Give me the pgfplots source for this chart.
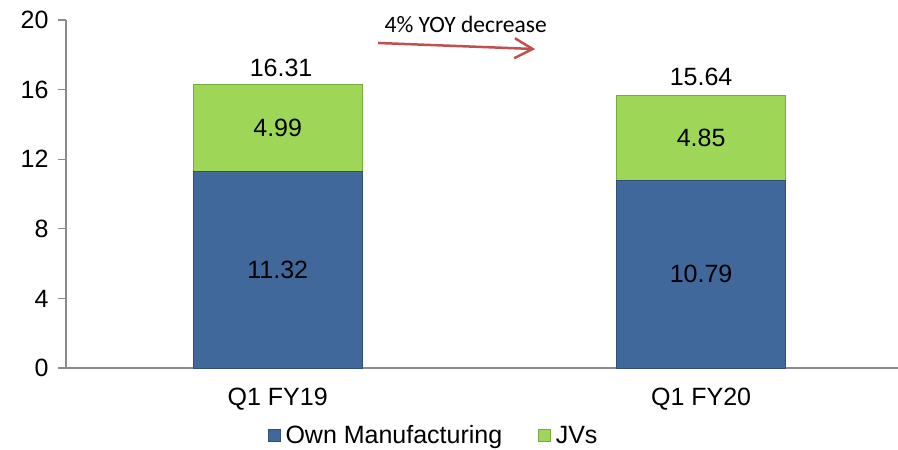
\documentclass[border=0pt]{standalone}
\usepackage{fontspec}
\setmainfont{Liberation Sans}
\newfontfamily\calibri{Carlito}
\usepackage{pgfplots}
\pgfplotsset{compat=1.18}
\usetikzlibrary{arrows.meta}

\definecolor{ownblue}{RGB}{64,104,155}
\definecolor{ownblueedge}{RGB}{48,80,122}
\definecolor{jvgreen}{RGB}{158,215,88}
\definecolor{jvgreenedge}{RGB}{120,170,60}
\definecolor{arrowred}{RGB}{192,80,77}
\definecolor{axisgray}{RGB}{140,140,140}

\newcommand{\lblfont}{\fontsize{25bp}{30bp}\selectfont}

\begin{document}
\begin{tikzpicture}
\begin{axis}[
    name=ax,
    clip=false,
    scale only axis,
    width=832bp, height=348bp,
    xmin=-0.5, xmax=1.465,
    ymin=0, ymax=20,
    ybar stacked,
    bar width=169bp,
    axis lines*=left,
    axis line style={axisgray, line width=1.2bp},
    tick style={axisgray, line width=1.2bp},
    tick align=outside,
    major tick length=8bp,
    ytick={0,4,...,20},
    xtick={0,1},
    xticklabels={Q1 FY19, Q1 FY20},
    x tick style={draw=none},
    extra x ticks={-0.5,0.5},
    extra x tick labels={},
    extra x tick style={tick style={axisgray, line width=1.2bp}},
    /pgf/number format/assume math mode=true,
    ticklabel style={font=\lblfont},
    yticklabel style={xshift=-6bp},
    xticklabel style={yshift=-9bp},
    legend style={at={(rel axis cs:0.442,-0.193)}, anchor=center,
        draw=none, legend columns=2, font=\lblfont,
        /tikz/every odd column/.append style={column sep=3bp},
        /tikz/every even column/.append style={column sep=34bp}},
    legend image code/.code={\draw[#1, line width=0.5bp] (0bp,-6bp) rectangle (12bp,6bp);},
]
\addplot[fill=ownblue, draw=ownblueedge, line width=0.8bp] coordinates {(0,11.32) (1,10.79)};
\addplot[fill=jvgreen, draw=jvgreenedge, line width=0.8bp] coordinates {(0,4.99) (1,4.85)};
\legend{Own Manufacturing, JVs}

\coordinate (a1) at (axis cs:0,5.66);
\coordinate (a2) at (axis cs:1,5.395);
\coordinate (b1) at (axis cs:0,13.815);
\coordinate (b2) at (axis cs:1,13.215);
\coordinate (t1) at (axis cs:0.008,16.78);
\coordinate (t2) at (axis cs:1,16.26);
\coordinate (ann) at (axis cs:0.444,19.30);
\coordinate (arS) at (axis cs:0.237,18.68);
\coordinate (arE) at (axis cs:0.608,18.33);
\end{axis}
% segment values
\node[font=\lblfont, anchor=center] at (a1) {11.32};
\node[font=\lblfont, anchor=center] at (a2) {10.79};
\node[font=\lblfont, anchor=center] at (b1) {4.99};
\node[font=\lblfont, anchor=center] at (b2) {4.85};
% totals
\node[font=\lblfont, anchor=base] at (t1) {16.31};
\node[font=\lblfont, anchor=base] at (t2) {15.64};
% annotation
\node[font=\calibri\fontsize{23.5bp}{28bp}\selectfont, anchor=base] at (ann) {4\% YOY decrease};
\draw[arrowred, line width=2.5bp, -{Straight Barb[length=18bp,width=20bp]}] (arS) -- (arE);
\pgfresetboundingbox
\path[use as bounding box] ([xshift=-66bp,yshift=-82bp]ax.south west) rectangle ([yshift=20bp]ax.north east);
\end{tikzpicture}
\end{document}
